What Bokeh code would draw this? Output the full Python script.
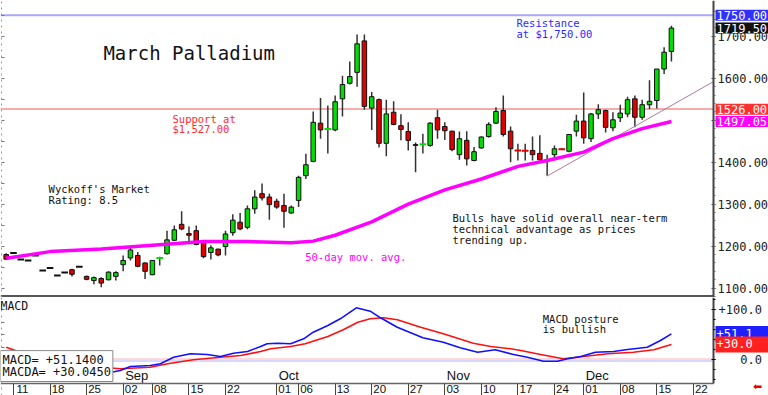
from bokeh.plotting import figure
from bokeh.layouts import column
from bokeh.models import (Range1d, LinearAxis, FixedTicker, PrintfTickFormatter, Label)
from bokeh.core.properties import value
from bokeh.embed import file_html
from bokeh.resources import INLINE

# ---------------- data (trading-day index: 0 = Mon 11 Aug 2025, -1 = Fri 8 Aug) ----------
day_index = list(range(-1, 91))
opens = [1180, 1184, 1168, 1166, 1178, 1142, 1148, 1130, 1137, 1144, 1151, 1128, 1118, 1123, 1120,
         1128, 1156, 1172, 1178, 1160, 1132, 1172, 1182, 1214, 1252, 1230, 1237, 1212, 1185, 1193,
         1199, 1232, 1257, 1245, 1289, 1325, 1317, 1307, 1297, 1279, 1309, 1368, 1402, 1493, 1479,
         1477, 1551, 1588, 1614, 1689, 1529, 1549, 1445, 1519, 1487, 1473, 1440, 1443, 1440, 1506,
         1485, 1474, 1418, 1452, 1404, 1434, 1461, 1493, 1523, 1474, 1428, 1427, 1428, 1421, 1406,
         1418, 1431, 1426, 1474, 1498, 1456, 1515, 1523, 1482, 1506, 1515, 1551, 1507, 1537, 1547,
         1622, 1664]
highs = [1183, 1184, 1168, 1166, 1178, 1142, 1148, 1130, 1137, 1146, 1151, 1130, 1128, 1126, 1140,
         1140, 1178, 1199, 1186, 1161, 1166, 1175, 1237, 1249, 1283, 1247, 1249, 1214, 1202, 1194,
         1237, 1276, 1279, 1297, 1333, 1349, 1325, 1313, 1325, 1297, 1368, 1420, 1521, 1553, 1535,
         1559, 1606, 1640, 1704, 1704, 1567, 1552, 1549, 1545, 1514, 1495, 1447, 1468, 1495, 1525,
         1495, 1475, 1473, 1474, 1436, 1462, 1495, 1531, 1559, 1485, 1444, 1444, 1461, 1464, 1418,
         1440, 1433, 1467, 1513, 1566, 1517, 1538, 1525, 1519, 1537, 1556, 1559, 1549, 1595, 1622,
         1674, 1725]
lows = [1168, 1184, 1168, 1166, 1178, 1142, 1148, 1130, 1137, 1128, 1151, 1119, 1109, 1102, 1118,
        1118, 1140, 1166, 1150, 1122, 1131, 1154, 1180, 1212, 1238, 1212, 1202, 1171, 1168, 1176,
        1178, 1225, 1238, 1240, 1277, 1309, 1263, 1289, 1244, 1277, 1293, 1360, 1400, 1456, 1421,
        1474, 1509, 1585, 1580, 1525, 1477, 1435, 1414, 1488, 1452, 1428, 1376, 1421, 1437, 1456,
        1453, 1426, 1406, 1392, 1402, 1432, 1459, 1491, 1461, 1400, 1404, 1404, 1404, 1400, 1368,
        1404, 1429, 1424, 1461, 1444, 1448, 1503, 1471, 1474, 1496, 1507, 1483, 1501, 1527, 1528,
        1610, 1640]
closes = [1169, 1184, 1168, 1166, 1178, 1142, 1148, 1130, 1137, 1133, 1151, 1121, 1125, 1112, 1138,
          1137, 1166, 1191, 1152, 1140, 1166, 1172, 1215, 1239, 1241, 1226, 1204, 1175, 1196, 1179,
          1229, 1262, 1241, 1289, 1317, 1315, 1299, 1293, 1283, 1293, 1364, 1394, 1495, 1477, 1479,
          1544, 1585, 1604, 1682, 1533, 1556, 1445, 1515, 1490, 1478, 1452, 1442, 1443, 1493, 1477,
          1475, 1430, 1456, 1408, 1425, 1460, 1490, 1521, 1466, 1432, 1428, 1427, 1418, 1406, 1404,
          1432, 1431, 1466, 1498, 1458, 1515, 1525, 1483, 1501, 1517, 1549, 1507, 1537, 1545, 1622,
          1662, 1719.5]

# 50-day moving average (read at sample points)
ma_day = [-1, 5, 12, 19, 26, 32, 38, 41, 44, 49, 54, 59, 64, 69, 73, 78, 82, 86, 90]
ma_val = [1171, 1187, 1193, 1202, 1211, 1211, 1208, 1212, 1226, 1258, 1300, 1334, 1360, 1390,
          1404, 1424, 1456, 1480, 1497.05]

# trend line drawn on the chart
trend_day = [73, 95.76]
trend_val = [1367, 1592]

support_level = 1527
support_tag = 1526.00
resistance_level = 1750

# MACD (blue) and its average (red)
macd_day = [-1, 6.4, 11.9, 14.6, 16.0, 18.7, 20.1, 21.9, 24.2, 26.5, 28.3, 30.1, 32.0, 33.8, 34.7,
            36.1, 37.9, 39.7, 41.0, 43.0, 44.7, 46.9, 48.8, 50.2, 52.5, 56.0, 58.8, 61.1, 63.5,
            65.9, 68.4, 70.3, 72.5, 74.4, 75.8, 77.6, 79.6, 82.1, 84.0, 86.7, 88.5, 90]
macd_val = [-26, -34, -30, -22, -14, -12, -8.6, 4.6, 11.4, 10, 6, 12.6, 16, 26, 31.4, 32.6, 31.4,
            41.4, 54.6, 68, 81.4, 103.4, 96.6, 83.4, 64.6, 43.4, 34.6, 23.4, 14.6, 19.4, 10, 4.6,
            -3.4, -3.4, 1.4, 6, 14.6, 16, 20, 24.6, 38, 51.14]
sig_day = [-1, 3.4, 9.2, 14.6, 18.7, 21.1, 24.6, 28.3, 31.1, 33.8, 35.2, 37.9, 39.9, 43.0, 45.1,
           47.1, 48.8, 50.6, 52.5, 55.7, 58.8, 62.9, 65.3, 68.0, 69.4, 72.1, 75.2, 78.0, 81.3,
           84.8, 87.6, 88.5, 90]
sig_val = [24.6, 1.4, -12, -18.6, -15.4, -8.6, -0.6, 4.6, 8, 16, 21.4, 26, 31.4, 46, 59.4, 74.6,
           81.4, 83.4, 79.4, 64.6, 51.4, 32.6, 26, 21.4, 18, 10, 1.4, 6, 11.4, 14.6, 19.4, 23.4,
           30.045]

# date axis
tick_days = [0, 5, 10, 15, 19, 24, 29, 36, 39, 44, 49, 54, 59, 64, 69, 74, 78, 83, 88, 93]
tick_labels = ["11", "18", "25", "02", "08", "15", "22", "01", "06", "13", "20", "27", "03", "10",
               "17", "24", "01", "08", "15", "22"]
month_days = [15, 36, 59, 78]
month_names = ["Sep", "Oct", "Nov", "Dec"]

price_ticks = [1100, 1200, 1300, 1400, 1500, 1600, 1700]

# ---------------- styling / layout constants ----------------
X0 = -1.778         # left edge of the panels
X_AXIS = 95.76      # where the price scale sits
X_END = 103.28      # right edge of the canvas
GREEN, RED = "#00dd00", "#e00000"
MONO = "DejaVu Sans Mono"
PPX = 2.382   # price units per pixel
MPX = 2.0     # macd units per pixel
P_LO, P_HI = 1077.7, 1785.2
M_LO, M_HI = -72, 124
M_BASE = -48


def base_fig(h, yr):
    f = figure(width=768, height=h, x_range=Range1d(X0, X_END), y_range=Range1d(*yr),
               output_backend="svg", toolbar_location=None, x_axis_location=None,
               y_axis_location=None, min_border_left=0, min_border_right=0, min_border_top=0,
               min_border_bottom=0)
    f.xgrid.visible = False
    f.ygrid.visible = False
    f.outline_line_color = None
    return f


def left_dotted(f, minors):
    ax = LinearAxis(ticker=FixedTicker(ticks=[], minor_ticks=minors), fixed_location=X0 + 0.15)
    ax.minor_tick_in = 3
    ax.minor_tick_out = 0
    ax.major_tick_in = 0
    ax.major_tick_out = 0
    ax.axis_line_color = "#999"
    ax.axis_line_dash = "dotted"
    ax.minor_tick_line_color = "#777"
    f.add_layout(ax, "left")


def side_label(f, y, text, bg):
    f.add_layout(Label(x=X_AXIS, y=y, x_offset=2, text=text, text_color="white", text_font=MONO,
                       text_font_size="12px", text_baseline="middle", text_align="left",
                       background_fill_color=bg, padding=1))


def add_lines(f, x, y0, lines, step, color, size, font=MONO):
    for k, t in enumerate(lines):
        f.add_layout(Label(x=x, y=y0 - k * step, text=t, text_color=color, text_font=font,
                           text_font_size=size, text_baseline="middle", text_align="left"))


# ---------------- price panel ----------------
p = base_fig(297, (P_LO, P_HI))

ra = LinearAxis(ticker=FixedTicker(ticks=price_ticks, minor_ticks=list(range(1080, 1780, 20))),
                formatter=PrintfTickFormatter(format="%.2f"), fixed_location=X_AXIS)
ra.major_label_text_font = MONO
ra.major_label_text_font_size = "12px"
ra.major_label_text_color = "#222"
ra.major_tick_out = 2
ra.major_tick_in = 2
ra.minor_tick_out = 2
ra.minor_tick_in = 0
ra.major_label_standoff = 2
ra.axis_line_color = "#444"
ra.axis_line_width = 2
ra.major_tick_line_color = "#444"
ra.minor_tick_line_color = "#666"
p.add_layout(ra, "right")

left_dotted(p, list(range(1100, 1800, 50)))

ba = LinearAxis(ticker=FixedTicker(ticks=[], minor_ticks=[]), fixed_location=1080,
                bounds=(X0, X_AXIS))
ba.major_tick_out = 0
ba.major_tick_in = 0
ba.minor_tick_out = 0
ba.axis_line_color = "#555"
ba.axis_line_width = 3
p.add_layout(ba, "below")

p.segment(x0=[X0], x1=[X_AXIS], y0=[resistance_level], y1=[resistance_level],
          line_color="#a8a8ff", line_width=2)
p.segment(x0=[X0], x1=[X_AXIS], y0=[support_level], y1=[support_level],
          line_color="#f09090", line_width=1.5)

# candles
wx, wlo, whi = [], [], []
bx, btop, bbot, bcol = [], [], [], []
dx0, dx1, dy, dcol = [], [], [], []
prev = None
for x, o, h, l, c in zip(day_index, opens, highs, lows, closes):
    if h > l:
        wx.append(x); wlo.append(l); whi.append(h)
    if o != c:
        bx.append(x); btop.append(max(o, c)); bbot.append(min(o, c))
        bcol.append(GREEN if c > o else RED)
    else:
        dx0.append(x - 0.45); dx1.append(x + 0.45); dy.append(c)
        if h == l:
            dcol.append("#111")
        else:
            dcol.append(GREEN if (prev is None or c >= prev) else RED)
    prev = c

p.segment(x0=wx, y0=wlo, x1=wx, y1=whi, line_color="#333", line_width=1.5)
p.vbar(x=bx, width=0.62, top=btop, bottom=bbot, fill_color=bcol, line_color="#111",
       line_width=1)
p.segment(x0=dx0, y0=dy, x1=dx1, y1=dy, line_color=dcol, line_width=2)

p.line(trend_day, trend_val, line_color="#b07a9a", line_width=1)
p.line(ma_day, ma_val, line_color="#ff00ff", line_width=3.5)

add_lines(p, 12.3, 1661, ["March Palladium"], 0, "#111", "19px")
add_lines(p, 21.75, 1504, ["Support at", "$1,527.00"], 10.5 * PPX, "#ff2a2a", "10.5px")
add_lines(p, 68.8, 1731, ["Resistance", "at $1,750.00"], 11 * PPX, "#2a2aff", "10.5px")
add_lines(p, 4.8, 1337, ["Wyckoff's Market", "Rating: 8.5"], 11 * PPX, "#111", "10.5px")
add_lines(p, 60.05, 1266, ["Bulls have solid overall near-term",
                           "technical advantage as prices", "trending up."],
          11 * PPX, "#111", "10.5px")
add_lines(p, 39.9, 1175, ["50-day mov. avg."], 0, "#ff00ff", "10.5px")

side_label(p, resistance_level, "%.2f" % resistance_level, "#3030ff")
side_label(p, closes[-1], "%.2f" % closes[-1], "#111111")
side_label(p, support_tag, "%.2f" % support_tag, "#ff3030")
side_label(p, ma_val[-1], "%.2f" % ma_val[-1], "#ff00ff")

# ---------------- MACD panel ----------------
m = base_fig(98, (M_LO, M_HI))
m.x_range = p.x_range

mra = LinearAxis(ticker=FixedTicker(ticks=[0, 100], minor_ticks=list(range(-40, 121, 20))),
                 fixed_location=X_AXIS, bounds=(M_BASE, M_HI))
mra.major_label_overrides = {0: "\u00a0\u00a0\u00a00.0", 100: "+100.0"}
mra.major_label_text_font = MONO
mra.major_label_text_font_size = "12px"
mra.major_label_text_color = "#222"
mra.major_tick_out = 2
mra.major_tick_in = 2
mra.minor_tick_out = 2
mra.minor_tick_in = 0
mra.major_label_standoff = 3
mra.axis_line_color = "#444"
mra.axis_line_width = 2
m.add_layout(mra, "right")

left_dotted(m, list(range(-25, 125, 25)))

mba = LinearAxis(ticker=FixedTicker(ticks=tick_days, minor_ticks=[]), fixed_location=M_BASE,
                 bounds=(X0, X_AXIS))
mba.major_label_overrides = {d: "\u00a0" * 5 + t for d, t in zip(tick_days, tick_labels)}
mba.major_label_text_font = "Liberation Sans"
mba.major_label_text_font_size = "11.5px"
mba.major_label_text_color = "#111"
mba.major_tick_out = 12
mba.major_tick_in = 0
mba.minor_tick_out = 0
mba.major_label_standoff = -13
mba.axis_line_color = "#666"
mba.axis_line_width = 1.5
mba.major_tick_line_color = "#444"
m.add_layout(mba, "below")

m.segment(x0=[X0], x1=[X_AXIS], y0=[1], y1=[1], line_color="#ffb0b0", line_width=1)
m.segment(x0=[X0], x1=[X_AXIS], y0=[-3], y1=[-3], line_color="#b0b0ff", line_width=1)

m.line(sig_day, sig_val, line_color="#ff1010", line_width=1.6)
m.line(macd_day, macd_val, line_color="#1010ff", line_width=1.6)

m.text(x=month_days, y=[M_BASE] * len(month_days), text=month_names, x_offset=2, y_offset=-1,
       text_font=value("Liberation Sans"), text_font_size="13px", text_color="#111",
       text_baseline="bottom", text_align="left")

add_lines(m, X0, 108, ["MACD"], 0, "#111", "11.5px")
add_lines(m, 72.4, 82, ["MACD posture", "is bullish"], 10.5 * MPX, "#111", "10.5px")

m.add_layout(Label(x=X0, y=-44, x_offset=0,
                   text="MACD=  %+.4f\nMACDA= %+.4f" % (macd_val[-1], sig_val[-1]),
                   text_color="#111", text_font=MONO, text_font_size="12px",
                   text_line_height=0.92, text_baseline="bottom", text_align="left",
                   background_fill_color="white", border_line_color="#888", padding=2))

side_label(m, macd_val[-1], "%+.1f\u00a0\u00a0" % macd_val[-1], "#2020ff")
side_label(m, sig_val[-1], "%+.1f\u00a0\u00a0" % sig_val[-1], "#ff2020")

m.add_layout(Label(x=101.8, y=-54, text="\u2b05", text_color="#ee0000",
                   text_font="DejaVu Sans", text_font_size="11px", text_baseline="middle",
                   text_align="center"))

layout = column(p, m, spacing=0)
open("out.html", "w").write(file_html(layout, INLINE))
